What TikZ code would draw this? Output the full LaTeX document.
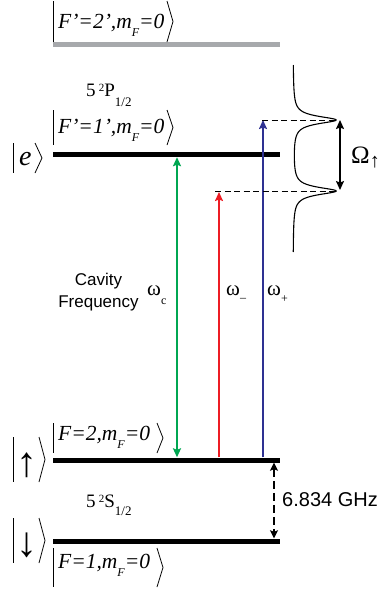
\documentclass[tikz,border=0pt]{standalone}
\usepackage{fontspec}
\setmainfont{Liberation Serif}
\setsansfont{Liberation Sans}
\usetikzlibrary{arrows.meta}
\definecolor{cgreen}{RGB}{0,166,81}
\definecolor{cred}{RGB}{237,28,36}
\definecolor{cblue}{RGB}{46,49,146}
\definecolor{levgray}{RGB}{167,169,172}
\newcommand\lowsub[3]{\raisebox{#1}{\fontsize{#2}{#2}\selectfont #3}}
\begin{document}
\begin{tikzpicture}[x=1pt,y=-1pt,
  lev/.style={fill=#1, inner sep=0pt, minimum width=227pt, minimum height=5pt},
  ketd/.style={line width=0.8pt},
  kettext/.style={font=\fontsize{21.5}{21.5}\selectfont\itshape, inner sep=0pt, anchor=base west},
  tr/.style={line width=2pt, draw=#1, -{Stealth[length=9pt,width=8pt,inset=1.5pt]}},
  dsh/.style={line width=1pt, dash pattern=on 6pt off 3.5pt},
  lbl/.style={inner sep=0pt, anchor=base west, font=\fontsize{19}{19}\selectfont},
  wlbl/.style={inner sep=0pt, anchor=base west, font=\fontsize{21}{21}\selectfont}
]
\useasboundingbox (0,0) rectangle (385,590);

% levels
\node[lev=levgray] (l2p) at (166.5,44.5) {};
\node[lev=black] (le) at (166.5,154.5) {};
\node[lev=black] (lu) at (166.5,460) {};
\node[lev=black] (ld) at (166.5,541) {};

% transitions
\coordinate (gx) at (177,300);
\coordinate (rtip) at (219,192);
\coordinate (btip) at (263,120);
\coordinate (p1) at (336,120);
\coordinate (p2) at (336,191);
\draw[tr=cgreen, {Stealth[length=9pt,width=8pt,inset=1.5pt]}-{Stealth[length=9pt,width=8pt,inset=1.5pt]}] (lu.north -| gx) -- (le.south -| gx);
\draw[tr=cred] (lu.north -| rtip) -- (rtip);
\draw[tr=cblue] (lu.north -| btip) -- (btip);
\draw[dsh] ([xshift=-1pt]btip) -- (p1);
\draw[dsh] (215,191) -- (p2);

% spectrum curve
\draw[line width=1.1pt] plot[domain=65:252, samples=400, variable=\t]
  ({293+43*(0.2/(((\t-120)/10)*((\t-120)/10)+0.2) + 0.2/(((\t-191)/10)*((\t-191)/10)+0.2))}, {\t});

% Omega arrow
\coordinate (o1) at (340,120);
\coordinate (o2) at (340,190);
\draw[line width=1.5pt, {Stealth[length=9pt,width=8pt,inset=1.5pt]}-{Stealth[length=9pt,width=8pt,inset=1.5pt]}] (o1) -- (o2);
\node[inner sep=0pt, anchor=base west, font=\fontsize{25}{25}\selectfont] (om) at (351,163) {Ω\lowsub{-4pt}{20}{↑}};

% hyperfine splitting arrow
\coordinate (hx) at (274,500);
\draw[line width=1.2pt, dash pattern=on 8pt off 4pt, {Stealth[length=8pt,width=8pt,inset=1.5pt]}-{Stealth[length=8pt,width=8pt,inset=1.5pt]}] (lu.south -| hx) -- (ld.north -| hx);
\node[inner sep=0pt, anchor=west, font=\sffamily\fontsize{20}{20}\selectfont] (ghz) at (282,500) {6.834 GHz};

% labels
\node[align=center, inner sep=0pt, font=\sffamily\fontsize{17}{22}\selectfont] (cav) at (98.5,292) {Cavity\\Frequency};
\node[wlbl] (wc) at (147,295) {ω\lowsub{-9pt}{12}{c}};
\node[wlbl] (wm) at (226,295) {ω\lowsub{-6pt}{12}{–}};
\node[wlbl] (wp) at (267,295) {ω\lowsub{-7pt}{12}{+}};

\node[lbl] (sp) at (86,96) {5\,\lowsub{5pt}{11}{2}P\lowsub{-10pt}{13}{1/2}};
\node[lbl] (ss) at (86,507) {5\,\lowsub{5pt}{11}{2}S\lowsub{-8pt}{13}{1/2}};

% kets
\node[kettext] (k2p) at (58,28) {F’=2’,m\lowsub{-8pt}{12}{F}=0};
\draw[ketd] (53,1) -- (53,42);
\draw[ketd] (167,1) -- (173,21.5) -- (167,42);

\node[kettext] (k1p) at (58,133) {F’=1’,m\lowsub{-8pt}{12}{F}=0};
\draw[ketd] (53,110) -- (53,145);
\draw[ketd] (167,110) -- (173,127.5) -- (167,145);

\node[kettext, font=\fontsize{28}{28}\selectfont\itshape] (ke) at (19,165) {e};
\draw[ketd] (13,143) -- (13,173);
\draw[ketd] (35,143) -- (42,158) -- (35,173);

\node[kettext] (kf2) at (58,440) {F=2,m\lowsub{-8pt}{12}{F}=0};
\draw[ketd] (53,423) -- (53,453);
\draw[ketd] (157,423) -- (163,438) -- (157,453);

\node[kettext] (kf1) at (58,568) {F=1,m\lowsub{-8pt}{12}{F}=0};
\draw[ketd] (53,548) -- (53,587);
\draw[ketd] (157,548) -- (163,567.5) -- (157,587);

\node[inner sep=0pt, font=\fontsize{42}{42}\selectfont] (kup) at (27,465) {↑};
\draw[ketd] (13,437) -- (13,482);
\draw[ketd] (39,437) -- (45,459.5) -- (39,482);

\node[inner sep=0pt, font=\fontsize{42}{42}\selectfont] (kdn) at (27,545) {↓};
\draw[ketd] (13,518) -- (13,563);
\draw[ketd] (39,518) -- (45,540.5) -- (39,563);
\end{tikzpicture}
\end{document}
